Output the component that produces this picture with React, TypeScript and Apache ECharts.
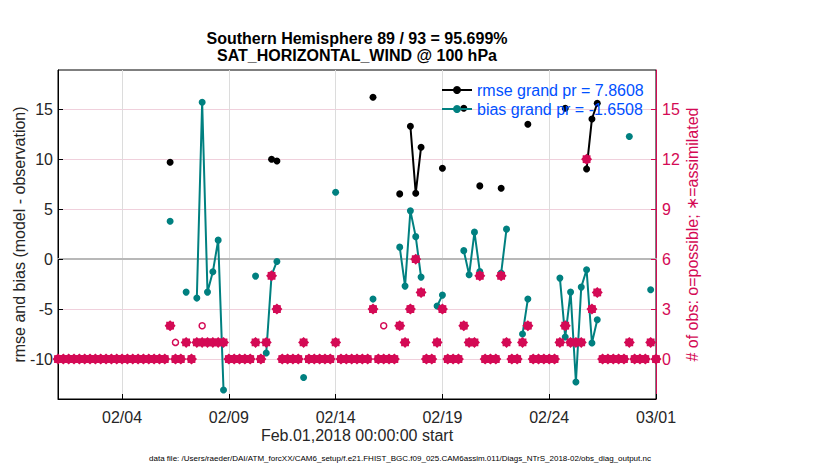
import React, { useEffect, useRef } from 'react';
import * as echarts from 'echarts';

// 6-hourly bins from Feb 01 2018 00Z to Mar 01 2018 00Z (113 bins, x in days)
const binsPerDay = 4;
const nBins = 113;

const xTickDays = [3, 8, 13, 18, 23, 28];
const xTickLabels = ['02/04', '02/09', '02/14', '02/19', '02/24', '03/01'];
const leftTicks = [-10, -5, 0, 5, 10, 15];
const rightTicks = [0, 3, 6, 9, 12, 15];

// number of observations assimilated per bin
const assimilated = [
  0, 0, 0, 0, 0, 0, 0, 0, 0, 0,
  0, 0, 0, 0, 0, 0, 0, 0, 0, 0,
  0, 2, 0, 0, 1, 0, 1, 1, 1, 1,
  1, 1, 0, 0, 0, 0, 0, 1, 0, 1,
  5, 3, 0, 0, 0, 0, 1, 0, 0, 0,
  0, 0, 1, 0, 0, 0, 0, 0, 0, 3,
  0, 0, 0, 0, 2, 1, 3, 6, 4, 0,
  0, 1, 3, 0, 0, 0, 2, 1, 1, 5,
  0, 0, 0, 5, 1, 0, 0, 1, 2, 0,
  0, 0, 0, 0, 1, 2, 1, 1, 1, 12,
  3, 4, 0, 0, 0, 0, 0, 1, 0, 0,
  0, 1, 0,
];

// number of observations possible per bin
const possible = [
  0, 0, 0, 0, 0, 0, 0, 0, 0, 0,
  0, 0, 0, 0, 0, 0, 0, 0, 0, 0,
  0, 2, 1, 0, 1, 0, 1, 2, 1, 1,
  1, 1, 0, 0, 0, 0, 0, 1, 0, 1,
  5, 3, 0, 0, 0, 0, 1, 0, 0, 0,
  0, 0, 1, 0, 0, 0, 0, 0, 0, 3,
  0, 2, 0, 0, 2, 1, 3, 6, 4, 0,
  0, 1, 3, 0, 0, 0, 2, 1, 1, 5,
  0, 0, 0, 5, 1, 0, 0, 1, 2, 0,
  0, 0, 0, 0, 1, 2, 1, 1, 1, 12,
  3, 4, 0, 0, 0, 0, 0, 1, 0, 0,
  0, 1, 0,
];

// bias: bins that have a value, and the values
const biasBins = [21, 24, 26, 27, 28, 29, 30, 31, 37, 39, 40, 41, 46, 52, 59, 64, 65, 66, 67, 68,
  71, 72, 76, 77, 78, 79, 83, 84, 87, 88, 94, 95, 96, 97, 98, 99, 100, 101, 107, 111];
const biasVals = [3.8, -3.3, -3.9, 15.7, -3.3, -1.27, 1.9, -13.1, -1.7, -9.4, -1.6, -0.23, -11.85, 6.7, -4.0,
  1.2, -2.7, 4.83, 2.25, -1.8, -4.7, -3.6, 0.85, -1.57, 2.7, -1.23, -1.4, 3.0, -7.5, -4.0,
  -1.9, -7.8, -3.3, -12.3, -2.8, -1.07, -8.4, -6.07, 12.27, -3.07];

// rmse: bins that have a value, and the values
const rmseBins = [21, 40, 41, 59, 64, 66, 67, 68, 72, 76, 79, 83, 88, 95, 99, 100, 101];
const rmseVals = [9.7, 10.0, 9.83, 16.2, 6.53, 13.3, 6.6, 11.2, 9.1, 15.1, 7.33, 7.1, 13.5, 15.1, 9.03, 14.03, 15.6];

const RED = '#d40a55';
const TEAL = '#008080';
const FONT = 'Liberation Sans';

const STAR =
  'path://M20 10 L17.2 13.0 L17.07 17.07 L13.0 17.2 L10 20 L7.0 17.2 L2.93 17.07 L2.8 13.0 L0 10 L2.8 7.0 L2.93 2.93 L7.0 2.8 L10 0 L13.0 2.8 L17.07 2.93 L17.2 7.0 Z';

function sparse(bins: number[], vals: number[]) {
  const arr: any[] = Array.from({ length: nBins }, (_, i) => [i / binsPerDay, '-']);
  bins.forEach((b, k) => {
    arr[b] = [b / binsPerDay, vals[k]];
  });
  return arr;
}

function full(vals: number[]) {
  return vals.map((v, i) => [i / binsPerDay, v]);
}

export default function App() {
  const ref = useRef<HTMLDivElement>(null);

  useEffect(() => {
    if (!ref.current) return;
    const chart = echarts.init(ref.current, undefined, { renderer: 'svg' });
    const pink = '#f0d0dc';
    const option: any = {
      animation: false,
      textStyle: { fontFamily: FONT },
      title: {
        text: 'Southern Hemisphere 89 / 93 = 95.699%\nSAT_HORIZONTAL_WIND @ 100 hPa',
        left: 357,
        top: 30,
        textAlign: 'center',
        padding: 0,
        textStyle: { fontSize: 16, fontWeight: 'bold', color: '#000', lineHeight: 17, fontFamily: FONT },
      },
      legend: {
        data: ['rmse grand pr = 7.8608', 'bias grand pr = -1.6508'],
        orient: 'vertical',
        left: 441,
        top: 82,
        padding: 0,
        itemWidth: 30,
        itemHeight: 10,
        itemGap: 3,
        selectedMode: false,
        textStyle: { color: '#0050ff', fontSize: 16, fontFamily: FONT },
      },
      grid: {
        left: 58,
        right: 174,
        top: 70,
        bottom: 71,
        show: true,
        borderColor: '#000',
        borderWidth: 1,
        backgroundColor: 'transparent',
        containLabel: false,
        outerBoundsMode: 'none',
      },
      xAxis: [
        {
          type: 'value',
          min: 0,
          max: 28,
          position: 'bottom',
          axisLine: { show: true, onZero: false, lineStyle: { color: '#000', width: 1 } },
          axisTick: { show: true, inside: true, length: 5, customValues: xTickDays, lineStyle: { color: '#000' } },
          axisLabel: {
            customValues: xTickDays,
            formatter: (v: number) => xTickLabels[xTickDays.indexOf(v)] ?? '',
            margin: 10,
            fontSize: 16,
            color: '#262626',
            fontFamily: FONT,
          },
          splitLine: { show: true, lineStyle: { color: '#dcdcdc', width: 1 } },
          name: 'Feb.01,2018 00:00:00 start',
          nameLocation: 'middle',
          nameGap: 28,
          nameMoveOverlap: false,
          nameTextStyle: { fontSize: 16, color: '#262626', fontFamily: FONT },
        },
        {
          type: 'value',
          min: 0,
          max: 28,
          position: 'top',
          axisLine: { show: true, onZero: true, onZeroAxisIndex: 0, lineStyle: { color: '#b8b8b8', width: 2 } },
          axisTick: { show: false },
          axisLabel: { show: false },
          splitLine: { show: false },
        },
      ],
      yAxis: [
        {
          type: 'value',
          min: -14,
          max: 18.93,
          position: 'left',
          axisLine: { show: true, onZero: false, lineStyle: { color: '#000', width: 1 } },
          axisTick: { show: true, inside: true, length: 5, customValues: leftTicks, lineStyle: { color: '#000' } },
          axisLabel: { customValues: leftTicks, margin: 5, fontSize: 16, color: '#262626', fontFamily: FONT },
          splitLine: { show: true, lineStyle: { color: [pink, pink, 'rgba(0,0,0,0)', pink, pink, pink], width: 1 } },
          name: 'rmse and bias (model - observation)',
          nameLocation: 'middle',
          nameGap: 31,
          nameMoveOverlap: false,
          nameTextStyle: { fontSize: 16, color: '#262626', fontFamily: FONT },
        },
        {
          type: 'value',
          min: -2.4,
          max: 17.358,
          position: 'right',
          axisLine: { show: true, onZero: false, lineStyle: { color: RED, width: 1 } },
          axisTick: { show: true, inside: true, length: 5, customValues: rightTicks, lineStyle: { color: RED } },
          axisLabel: { customValues: rightTicks, margin: 6, fontSize: 16, color: RED, fontFamily: FONT },
          splitLine: { show: false },
          name: '# of obs: o=possible; \u2217=assimilated',
          nameLocation: 'middle',
          nameGap: 28,
          nameMoveOverlap: false,
          nameTextStyle: { fontSize: 16, color: RED, fontFamily: FONT },
        },
      ],
      graphic: [
        {
          type: 'text',
          x: 400,
          y: 458,
          style: {
            text: 'data file: /Users/raeder/DAI/ATM_forcXX/CAM6_setup/f.e21.FHIST_BGC.f09_025.CAM6assim.011/Diags_NTrS_2018-02/obs_diag_output.nc',
            fill: '#000',
            font: '8px "Liberation Sans"',
            textAlign: 'center',
            textVerticalAlign: 'middle',
            align: 'center',
            verticalAlign: 'middle',
          },
        },
      ],
      series: [
        {
          name: 'rmse grand pr = 7.8608',
          type: 'line',
          xAxisIndex: 0,
          yAxisIndex: 0,
          data: sparse(rmseBins, rmseVals),
          symbol: 'circle',
          symbolSize: 7,
          showAllSymbol: true,
          connectNulls: false,
          itemStyle: { color: '#000' },
          lineStyle: { color: '#000', width: 2 },
          z: 3,
        },
        {
          name: 'bias grand pr = -1.6508',
          type: 'line',
          xAxisIndex: 0,
          yAxisIndex: 0,
          data: sparse(biasBins, biasVals),
          symbol: 'circle',
          symbolSize: 7,
          showAllSymbol: true,
          connectNulls: false,
          itemStyle: { color: TEAL },
          lineStyle: { color: TEAL, width: 2 },
          z: 4,
        },
        {
          name: 'possible',
          type: 'scatter',
          xAxisIndex: 0,
          yAxisIndex: 1,
          data: full(possible),
          symbol: 'circle',
          symbolSize: 6,
          itemStyle: { color: '#fff', borderColor: RED, borderWidth: 1.5, opacity: 1 },
          z: 5,
        },
        {
          name: 'assimilated',
          type: 'scatter',
          xAxisIndex: 0,
          yAxisIndex: 1,
          data: full(assimilated),
          symbol: STAR,
          symbolSize: 11,
          itemStyle: { color: RED, opacity: 1 },
          z: 6,
        },
      ],
    };
    chart.setOption(option);
    return () => chart.dispose();
  }, []);

  return <div ref={ref} style={{ position: 'absolute', left: 0, top: 0, width: 830, height: 470 }} />;
}
